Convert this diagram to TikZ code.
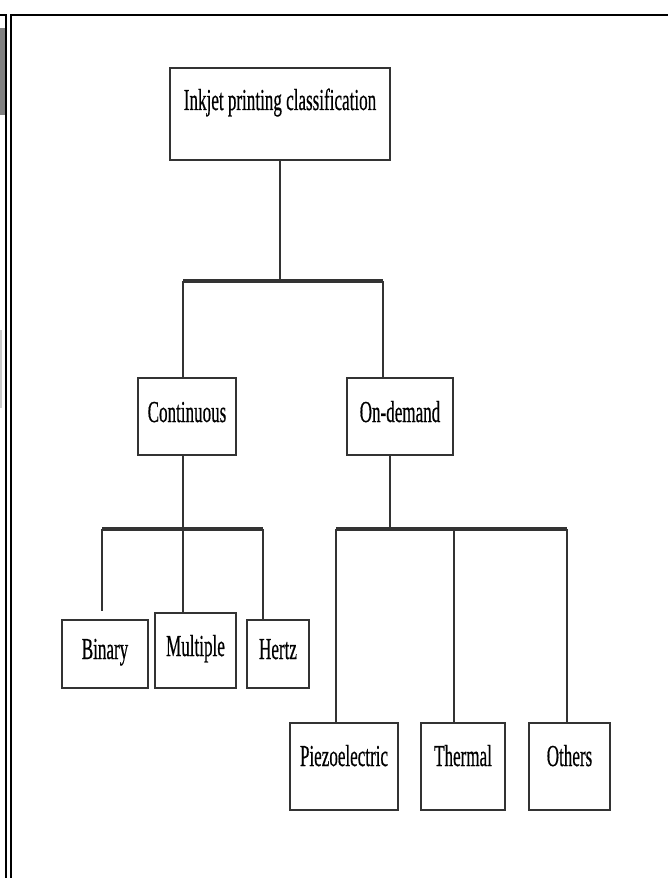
\documentclass[tikz,border=0pt]{standalone}
\usepackage{fontspec}
\setmainfont{Liberation Serif}
\newfontfamily\lblfont{Liberation Serif}[FakeBold=0.7]
\usetikzlibrary{positioning}
\newcommand{\cond}[1]{\scalebox{0.56}[1]{#1}}

\begin{document}
\begin{tikzpicture}[
  x=1mm, y=-1mm,
  box/.style={draw=black!80, line width=1.6pt, inner sep=0pt, text height=5.8mm, font=\lblfont\fontsize{26}{30}\selectfont},
  stem/.style={draw=black!80, line width=2pt},
  bus/.style={draw=black!80, line width=3.4pt, line join=round},
  frame/.style={draw=black, line width=1.3pt}
]
\useasboundingbox (0,0) rectangle (200.4,263.4);
\fill[black!50] (0,8.4) rectangle (1.4,34.5);
\fill[black!20] (0,99) rectangle (0.6,122.4);
\draw[frame] (0,4.5) -- (1.8,4.5) -- (1.8,263.4);
\draw[frame] (3.3,263.4) -- (3.3,4.5) -- (200.4,4.5);

\node[box, minimum width=66mm, minimum height=27.6mm, text depth=8.2mm] (root) at (84,34.2) {\cond{Inkjet printing classification}};
\node[box, minimum width=29.4mm, minimum height=23.1mm, text depth=2.5mm] (cont) at (56.1,124.95) {\cond{Continuous}};
\node[box, minimum width=31.8mm, minimum height=23.1mm, text depth=2.5mm] (odem) at (120,124.95) {\cond{On-demand}};
\node[box, minimum width=25.8mm, minimum height=20.4mm, text depth=2.8mm] (binary) at (31.5,196.2) {\cond{Binary}};
\node[box, minimum width=24.3mm, minimum height=22.5mm, text depth=2.5mm] (multi) at (58.65,195.15) {\cond{Multiple}};
\node[box, minimum width=18.6mm, minimum height=20.4mm, text depth=2.8mm] (hertz) at (83.4,196.2) {\cond{Hertz}};
\node[box, minimum width=32.4mm, minimum height=26.1mm, text depth=6.1mm] (piezo) at (103.2,229.95) {\cond{Piezoelectric}};
\node[box, minimum width=25.2mm, minimum height=26.1mm, text depth=6.1mm] (thermal) at (138.9,229.95) {\cond{Thermal}};
\node[box, minimum width=24.3mm, minimum height=26.1mm, text depth=6.1mm] (others) at (170.85,229.95) {\cond{Others}};

\coordinate (rowA) at (0,84.3);
\coordinate (rowB) at (0,158.7);
\coordinate (dcont) at ([xshift=-1.2mm]cont.north);
\coordinate (dodem) at ([xshift=-5.1mm]odem.north);
\coordinate (ucont) at ([xshift=-1.2mm]cont.south);
\coordinate (uodem) at ([xshift=-3mm]odem.south);
\coordinate (dbin) at ([xshift=-0.9mm,yshift=2.4mm]binary.north);
\coordinate (dmul) at ([xshift=-3.75mm]multi.north);
\coordinate (dher) at ([xshift=-4.5mm]hertz.north);
\coordinate (dpie) at ([xshift=-2.4mm]piezo.north);
\coordinate (dthe) at ([xshift=-2.7mm]thermal.north);
\coordinate (doth) at ([xshift=-0.75mm]others.north);

\draw[stem] (root.south) -- (root.south |- rowA);
\draw[bus] (dcont |- rowA) -- (dodem |- rowA);
\draw[stem] (dcont |- rowA) -- (dcont);
\draw[stem] (dodem |- rowA) -- (dodem);

\draw[stem] (ucont) -- (ucont |- rowB);
\draw[bus] (dbin |- rowB) -- (dher |- rowB);
\draw[stem] (dbin |- rowB) -- (dbin);
\draw[stem] (dmul |- rowB) -- (dmul);
\draw[stem] (dher |- rowB) -- (dher);

\draw[stem] (uodem) -- (uodem |- rowB);
\draw[bus] (dpie |- rowB) -- (doth |- rowB);
\draw[stem] (dpie |- rowB) -- (dpie);
\draw[stem] (dthe |- rowB) -- (dthe);
\draw[stem] (doth |- rowB) -- (doth);
\end{tikzpicture}
\end{document}
